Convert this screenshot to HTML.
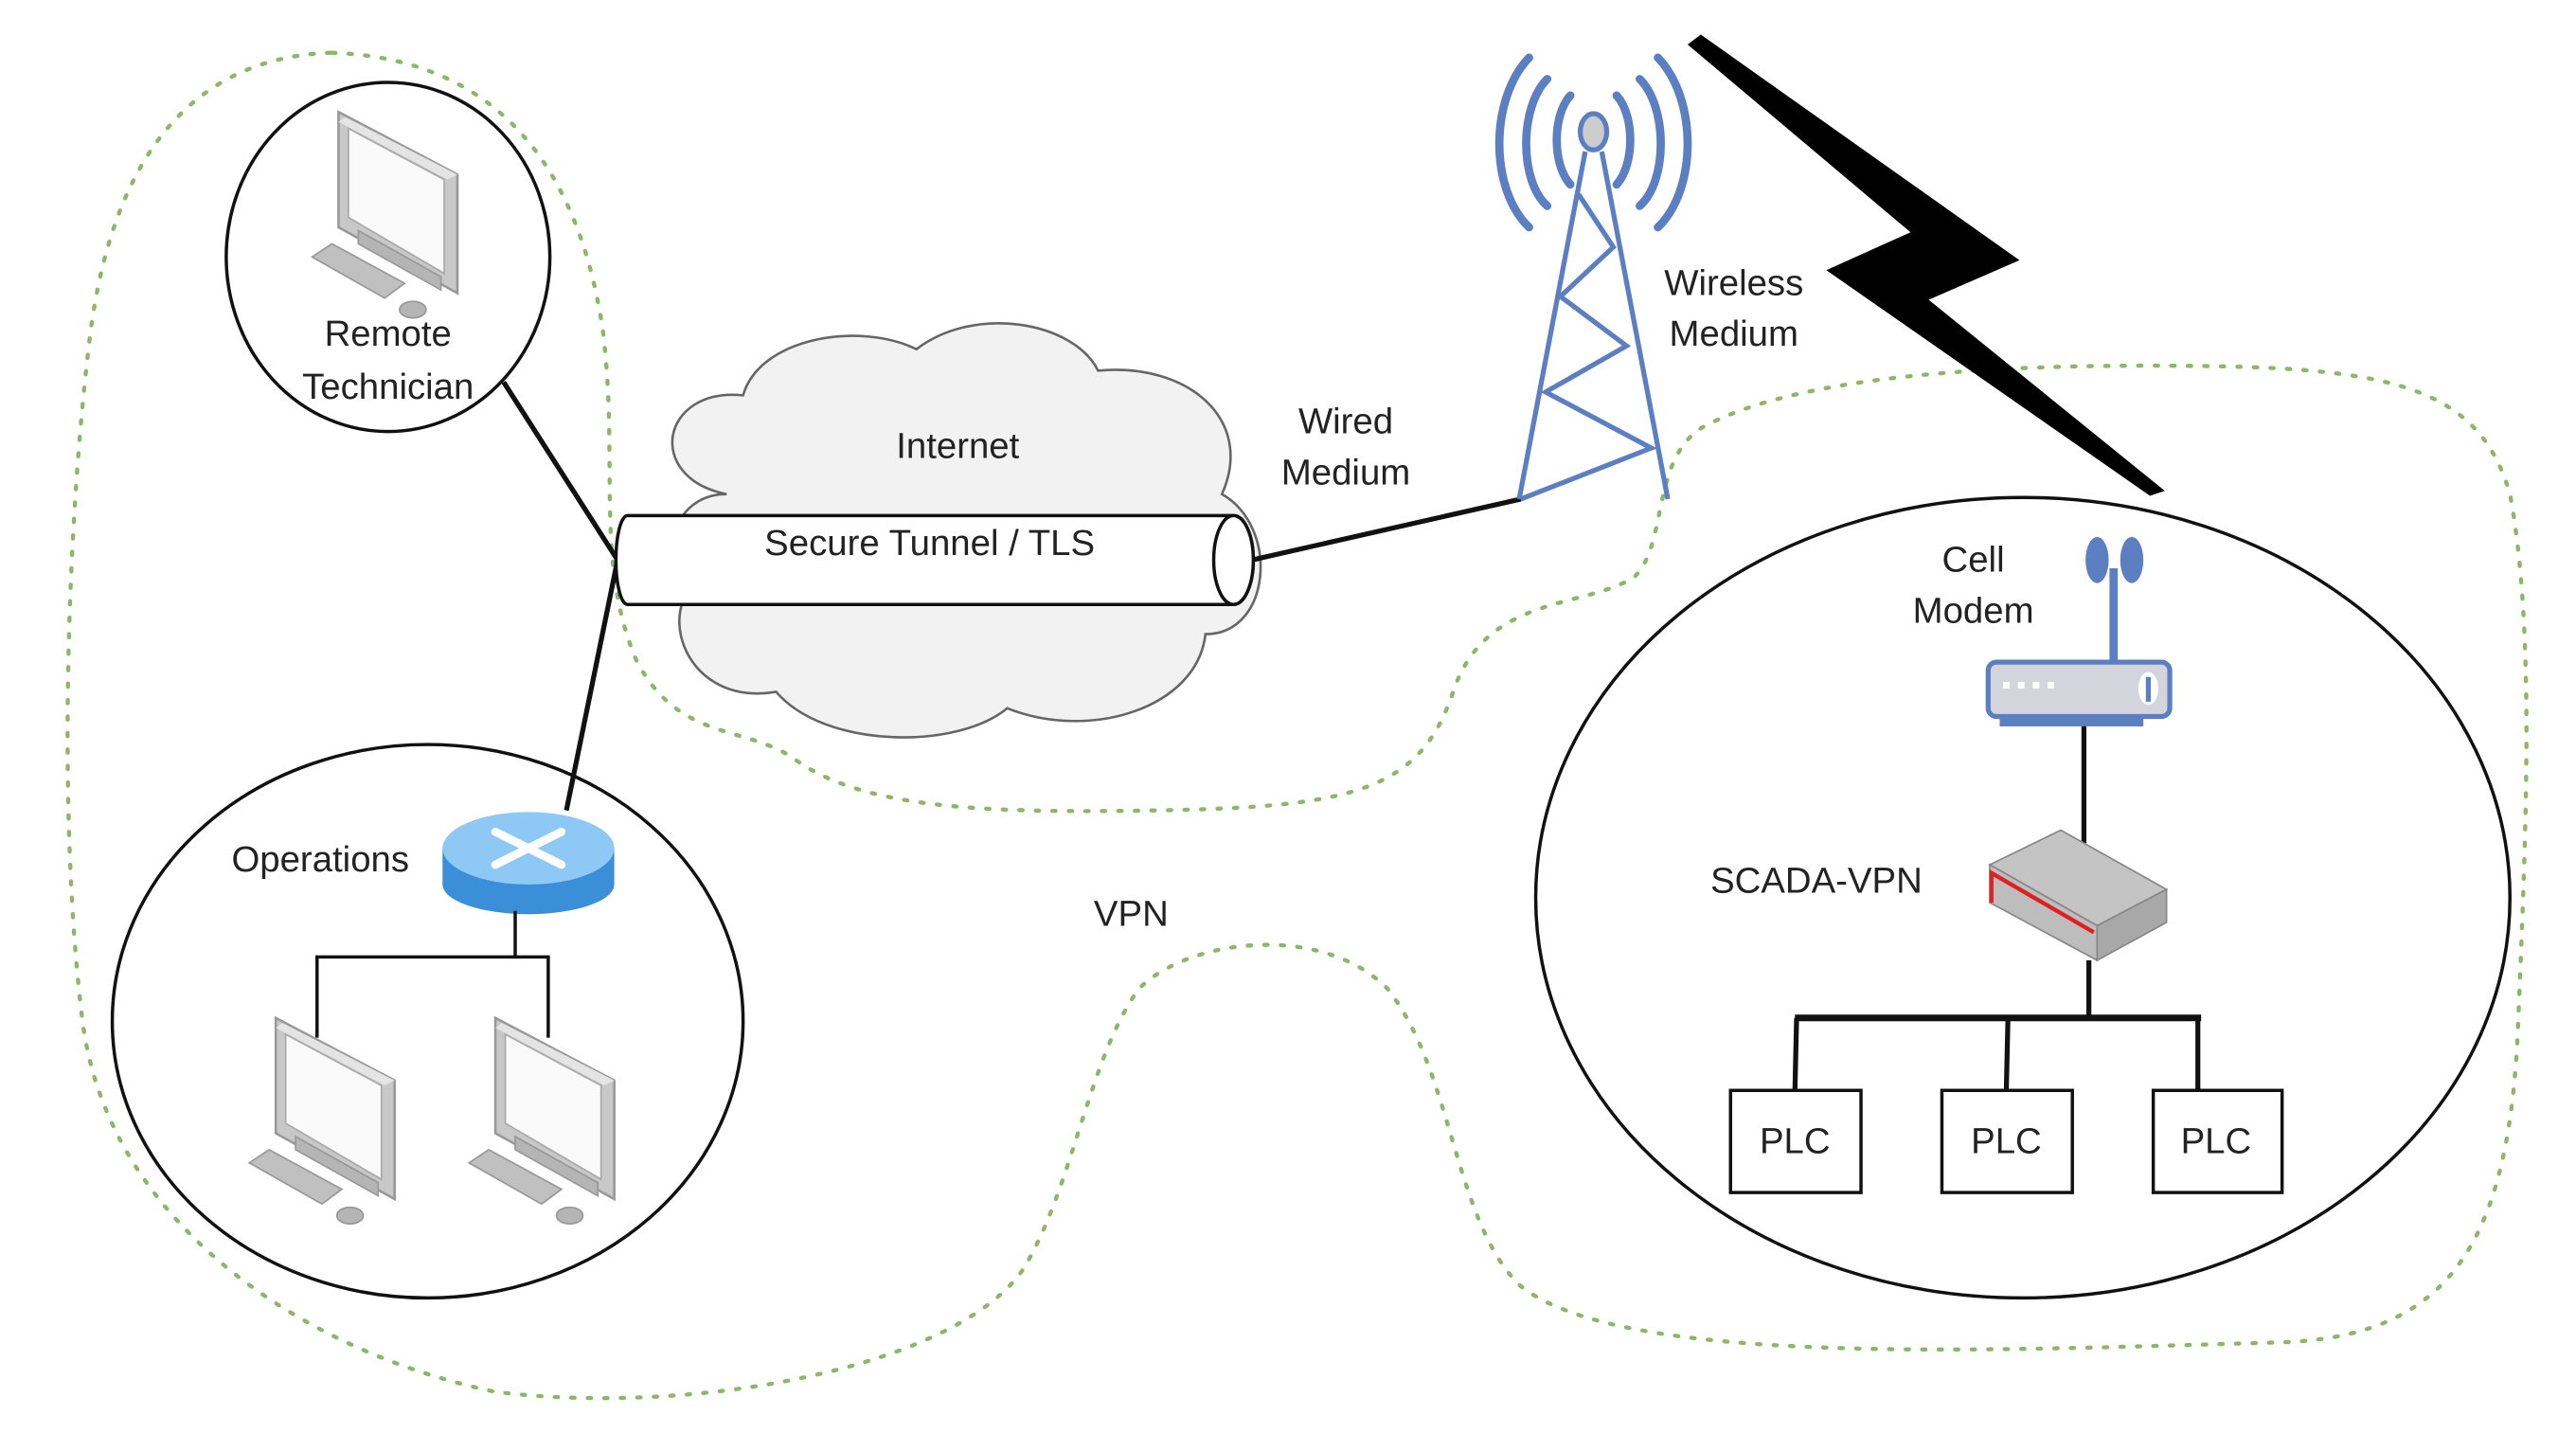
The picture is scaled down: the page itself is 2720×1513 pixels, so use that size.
<!DOCTYPE html>
<html><head><meta charset="utf-8"><style>
html,body{margin:0;padding:0;background:#fff;}
svg{display:block;}
text{font-family:"Liberation Sans",sans-serif;font-size:22px;fill:#222;}
</style></head><body>
<svg width="2720" height="1513" viewBox="0 0 1560 870" preserveAspectRatio="none" xmlns="http://www.w3.org/2000/svg">
<defs>
<g id="mon">
  <polygon points="0,0 72,38 72,110 0,70" fill="#c8c8c8" stroke="#999" stroke-width="1.5"/>
  <polygon points="4,3 72,38 66,41 0,6" fill="#e4e4e4"/>
  <polygon points="6,10 64,41 64,98 6,64" fill="#fafafa" stroke="#aaa" stroke-width="1"/>
  <polygon points="12,72 62,100 62,108 12,80" fill="#b5b5b5" stroke="#999" stroke-width="1"/>
  <polygon points="-16,88 -4,80 40,104 28,113" fill="#c0c0c0" stroke="#999" stroke-width="1"/>
  <ellipse cx="45" cy="120" rx="8" ry="5" fill="#b5b5b5" stroke="#999" stroke-width="1"/>
</g>
</defs>

<path d="M200,32 C120,35 70,90 55,200 C40,320 35,500 50,620 C65,740 180,820 300,845 C420,860 580,830 620,770 C650,720 660,640 690,600 C720,570 800,560 840,600 C880,650 880,740 920,780 C980,830 1200,820 1380,815 C1480,812 1520,760 1525,620 C1530,500 1535,380 1520,300 C1500,230 1440,222 1300,222 C1180,222 1080,232 1030,260 C1000,280 1010,330 990,350 C960,370 900,360 880,420 C860,480 820,490 700,492 C590,494 520,490 480,460 C450,440 410,450 385,400 C360,340 375,280 365,200 C350,100 300,35 200,32 Z" fill="none" stroke="#8bb868" stroke-width="2.5" stroke-dasharray="2,8" stroke-linecap="round"/>

<ellipse cx="235" cy="156" rx="98" ry="106" fill="none" stroke="#111" stroke-width="2"/>
<ellipse cx="259" cy="620" rx="191" ry="168" fill="none" stroke="#111" stroke-width="2"/>
<ellipse cx="1225" cy="545" rx="295" ry="243" fill="none" stroke="#111" stroke-width="2"/>

<path d="M440,300 C390,290 400,235 450,240 C460,205 520,195 555,212 C590,185 650,195 665,225 C720,220 760,255 740,300 C775,320 770,385 730,385 C725,430 660,450 610,430 C580,455 500,455 470,420 C410,430 395,360 430,350 C395,335 410,300 440,300 Z" fill="#f2f2f2" stroke="#666" stroke-width="1.5"/>
<text x="580" y="278" text-anchor="middle">Internet</text>

<line x1="305" y1="232" x2="374" y2="340" stroke="#111" stroke-width="3"/>
<line x1="374" y1="340" x2="343" y2="492" stroke="#111" stroke-width="3"/>
<line x1="758" y1="340" x2="921" y2="303" stroke="#111" stroke-width="3"/>

<path d="M380,313 L747,313 A12,27 0 0 1 747,367 L380,367 A7,27 0 0 1 380,313 Z" fill="#fff" stroke="#111" stroke-width="2"/>
<ellipse cx="747" cy="340" rx="12" ry="27" fill="#fff" stroke="#111" stroke-width="2"/>
<text x="563" y="337" text-anchor="middle">Secure Tunnel / TLS</text>

<text x="815" y="263" text-anchor="middle">Wired</text>
<text x="815" y="294" text-anchor="middle">Medium</text>

<g stroke="#5b7fc0" fill="none" stroke-width="3">
  <line x1="960" y1="92" x2="920" y2="303"/>
  <line x1="970" y1="92" x2="1010" y2="303"/>
  <polyline points="956,118 977,150 945,180 985,210 936,238 1000,272 921,303"/>
  <g stroke-width="5" stroke-linecap="round">
    <path d="M951,58 C940,70 940,100 951,112"/>
    <path d="M979,58 C990,70 990,100 979,112"/>
    <path d="M937,48 C920,65 920,110 937,125"/>
    <path d="M993,48 C1010,65 1010,110 993,125"/>
    <path d="M926,35 C902,60 902,115 926,138"/>
    <path d="M1004,35 C1028,60 1028,115 1004,138"/>
  </g>
</g>
<ellipse cx="965" cy="80" rx="8" ry="11" fill="#ccc" stroke="#5b7fc0" stroke-width="3"/>
<text x="1050" y="179" text-anchor="middle">Wireless</text>
<text x="1050" y="210" text-anchor="middle">Medium</text>

<polygon points="1022,27 1030,21 1223,158 1168,182 1311,298 1302,301 1106,164 1157,141" fill="#000"/>

<text x="1195" y="347" text-anchor="middle">Cell</text>
<text x="1195" y="378" text-anchor="middle">Modem</text>
<line x1="1280" y1="345" x2="1280" y2="402" stroke="#5b7fc0" stroke-width="5"/>
<ellipse cx="1270" cy="340" rx="7" ry="14" fill="#5b7fc0"/>
<ellipse cx="1291" cy="340" rx="7" ry="14" fill="#5b7fc0"/>
<rect x="1211" y="433" width="87" height="8" fill="#5b7fc0"/>
<rect x="1204" y="402" width="110" height="33" rx="5" fill="#d4d4dc" stroke="#5b7fc0" stroke-width="3"/>
<g fill="#fff"><rect x="1213" y="414" width="4" height="4"/><rect x="1222" y="414" width="4" height="4"/><rect x="1231" y="414" width="4" height="4"/><rect x="1240" y="414" width="4" height="4"/></g>
<ellipse cx="1301" cy="418" rx="6" ry="10" fill="#fff"/>
<line x1="1301" y1="411" x2="1301" y2="426" stroke="#5b7fc0" stroke-width="3"/>
<line x1="1262" y1="441" x2="1262" y2="512" stroke="#111" stroke-width="3"/>

<text x="1100" y="542" text-anchor="middle">SCADA-VPN</text>
<polygon points="1205,525 1248,504 1312,540 1270,562" fill="#c4c4c4" stroke="#888" stroke-width="1"/>
<polygon points="1205,525 1270,562 1270,583 1205,548" fill="#bdbdbd" stroke="#888" stroke-width="1"/>
<polygon points="1270,562 1312,540 1312,560 1270,583" fill="#a8a8a8" stroke="#888" stroke-width="1"/>
<polyline points="1206,548 1206,530 1268,566" fill="none" stroke="#e02020" stroke-width="2.5"/>
<line x1="1265" y1="583" x2="1265" y2="618" stroke="#111" stroke-width="3"/>
<line x1="1087" y1="618" x2="1333" y2="618" stroke="#111" stroke-width="4"/>
<line x1="1088" y1="618" x2="1087" y2="662" stroke="#111" stroke-width="3"/>
<line x1="1216" y1="618" x2="1215" y2="662" stroke="#111" stroke-width="3"/>
<line x1="1331" y1="618" x2="1331" y2="662" stroke="#111" stroke-width="3"/>
<g fill="#fff" stroke="#111" stroke-width="2">
<rect x="1048" y="662" width="79" height="62"/>
<rect x="1176" y="662" width="79" height="62"/>
<rect x="1304" y="662" width="78" height="62"/>
</g>
<text x="1087" y="700" text-anchor="middle">PLC</text>
<text x="1215" y="700" text-anchor="middle">PLC</text>
<text x="1342" y="700" text-anchor="middle">PLC</text>

<use href="#mon" x="205" y="68"/>
<text x="235" y="210" text-anchor="middle">Remote</text>
<text x="235" y="242" text-anchor="middle">Technician</text>

<text x="194" y="529" text-anchor="middle">Operations</text>
<rect x="268" y="515" width="104" height="22" fill="#3a8fd8"/>
<ellipse cx="320" cy="537" rx="52" ry="18" fill="#3a8fd8"/>
<ellipse cx="320" cy="515" rx="52" ry="22" fill="#8ec8f4"/>
<g stroke="#fff" stroke-width="5" stroke-linecap="round"><line x1="300" y1="505" x2="340" y2="525"/><line x1="340" y1="505" x2="300" y2="525"/></g>
<line x1="312" y1="553" x2="312" y2="581" stroke="#111" stroke-width="2"/>
<line x1="191" y1="581" x2="333" y2="581" stroke="#111" stroke-width="2"/>
<line x1="192" y1="581" x2="192" y2="630" stroke="#111" stroke-width="2"/>
<line x1="332" y1="581" x2="332" y2="630" stroke="#111" stroke-width="2"/>
<use href="#mon" x="167" y="618"/>
<use href="#mon" x="300" y="618"/>

<text x="685" y="562" text-anchor="middle">VPN</text>
</svg>
</body></html>
